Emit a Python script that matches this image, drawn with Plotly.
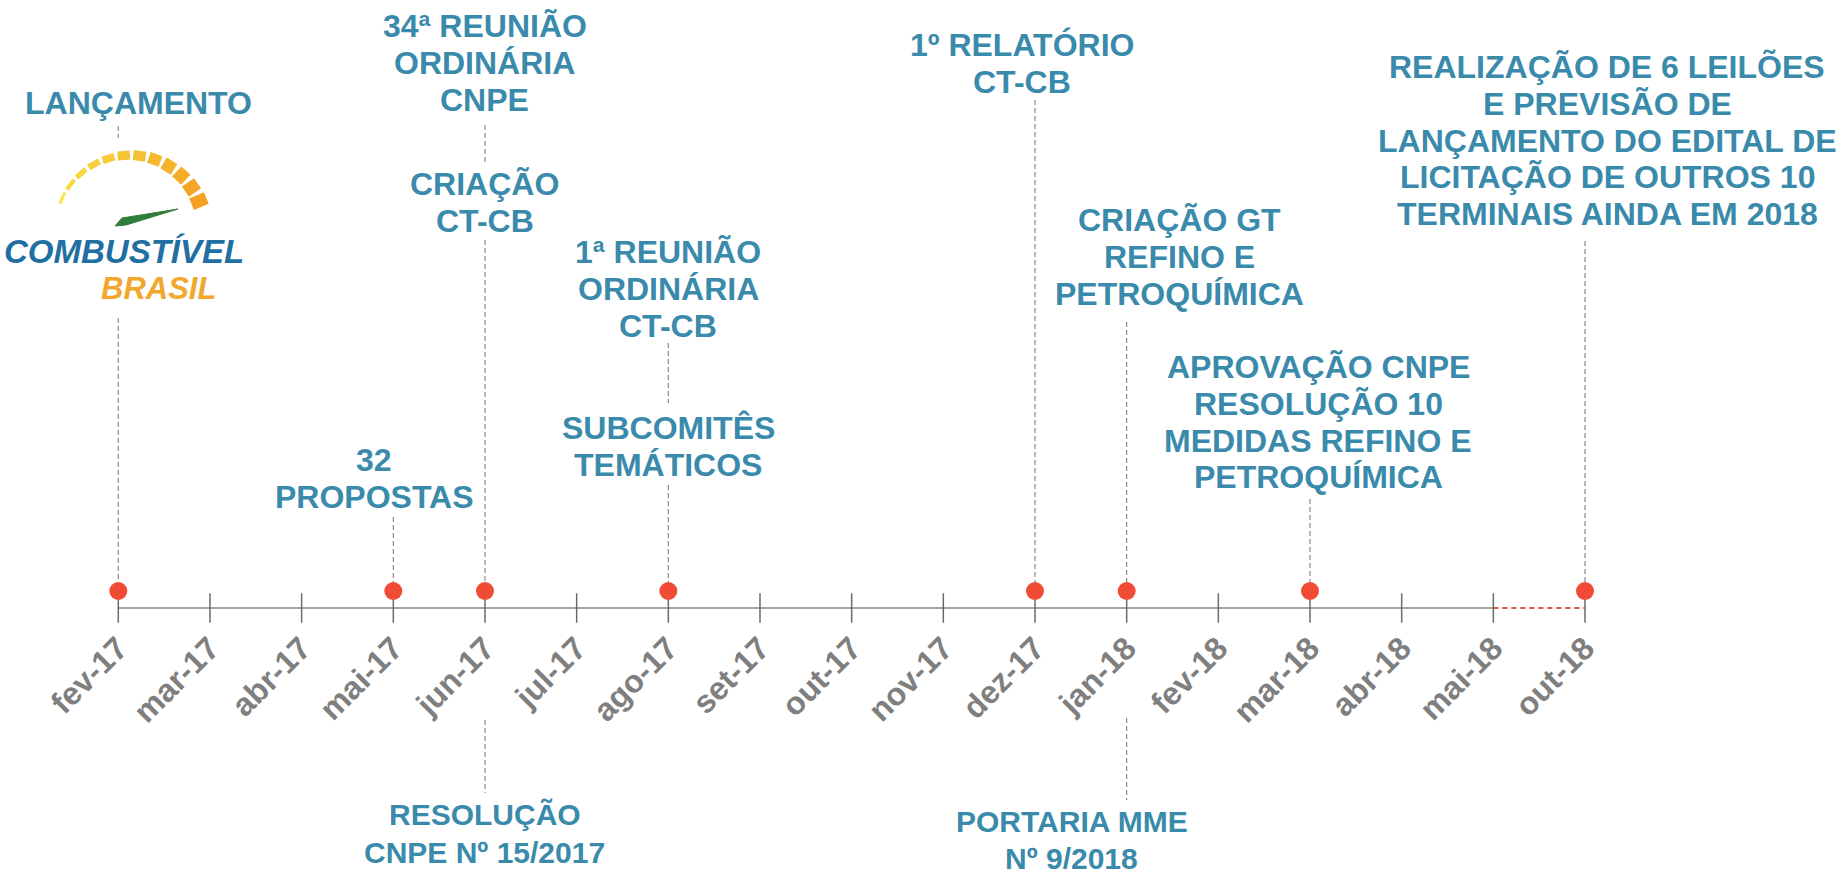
import numpy as np
import plotly.graph_objects as go

# ---------------- data ----------------
months = ["fev-17", "mar-17", "abr-17", "mai-17", "jun-17", "jul-17", "ago-17", "set-17",
          "out-17", "nov-17", "dez-17", "jan-18", "fev-18", "mar-18", "abr-18", "mai-18", "out-18"]
event_months = ["fev-17", "mai-17", "jun-17", "ago-17", "dez-17", "jan-18", "mar-18", "out-18"]

# texts attached to events (month, text)
event_texts = [
    ("fev-17", "LANÇAMENTO"),
    ("jun-17", "34ª REUNIÃO<br>ORDINÁRIA<br>CNPE"),
    ("jun-17", "CRIAÇÃO<br>CT-CB"),
    ("mai-17", "32<br>PROPOSTAS"),
    ("ago-17", "1ª REUNIÃO<br>ORDINÁRIA<br>CT-CB"),
    ("ago-17", "SUBCOMITÊS<br>TEMÁTICOS"),
    ("dez-17", "1º RELATÓRIO<br>CT-CB"),
    ("jan-18", "CRIAÇÃO GT<br>REFINO E<br>PETROQUÍMICA"),
    ("mar-18", "APROVAÇÃO CNPE<br>RESOLUÇÃO 10<br>MEDIDAS REFINO E<br>PETROQUÍMICA"),
    ("out-18", "REALIZAÇÃO DE 6 LEILÕES<br>E PREVISÃO DE<br>LANÇAMENTO DO EDITAL DE<br>LICITAÇÃO DE OUTROS 10<br>TERMINAIS AINDA EM 2018"),
    ("jun-17", "RESOLUÇÃO<br>CNPE Nº 15/2017"),
    ("jan-18", "PORTARIA MME<br>Nº 9/2018"),
]

# ---------------- layout helpers (pixel placement) ----------------
W, H = 1841, 874
X0_PX, STEP_PX = 118.3, 91.67          # pixel of first tick, pixel per month slot
AXIS_PY, DOT_PY = 608, 591
x_min = -X0_PX / STEP_PX
x_max = x_min + W / STEP_PX


def xd(px):
    return (px - X0_PX) / STEP_PX


def yd(py):
    return H - py


idx = {m: i for i, m in enumerate(months)}

# first-line centre (pixel y), horizontal shift, font size, line gap — same order as event_texts
text_pos = [(103, 20, 32, 36.8), (26, 0, 32, 36.8), (184, 0, 32, 36.8), (460, -19, 32, 36.8),
            (252, 0, 32, 36.8), (428, 0, 32, 36.8), (45, -13, 32, 36.8), (220, 53, 32, 36.8),
            (367, 8, 32, 36.8), (67, 22, 32, 36.8), (814, 0, 30, 38), (821, -55, 30, 37)]

# dashed connector segments (month, top py, bottom py)
connectors = [("fev-17", 126, DOT_PY), ("mai-17", 517, DOT_PY), ("jun-17", 125, 162),
              ("jun-17", 240, DOT_PY), ("jun-17", 720, 793), ("ago-17", 343, 403),
              ("ago-17", 485, DOT_PY), ("dez-17", 100, DOT_PY), ("jan-18", 322, DOT_PY),
              ("jan-18", 718, 800), ("mar-18", 499, DOT_PY), ("out-18", 241, DOT_PY)]

TEXT_COLOR = "#3a8aab"
DOT_COLOR = "#f04b35"
GREY_LINE = "#a3a3a3"
FONT = "Arial, Liberation Sans, sans-serif"

fig = go.Figure()

# connectors
cx, cy = [], []
for m, t, b in connectors:
    cx += [idx[m], idx[m], None]
    cy += [yd(t), yd(b), None]
fig.add_trace(go.Scatter(x=cx, y=cy, mode="lines", hoverinfo="skip",
                         line=dict(color="#8a8a8a", width=1.2, dash="5px,3px")))

# ---- logo (white backdrop, gauge arc, needle) ----
bx = [xd(4), xd(250), xd(250), xd(4), xd(4)]
by = [yd(138), yd(138), yd(316), yd(316), yd(138)]
fig.add_trace(go.Scatter(x=bx, y=by, fill="toself", fillcolor="white", mode="lines",
                         line=dict(width=0), hoverinfo="skip"))
cxp, cyp, r = 130, 230, 75
n_seg = 12
a_start, a_end = np.deg2rad(160), np.deg2rad(16)
edges = np.linspace(a_start, a_end, n_seg + 1)
c1, c2 = np.array([248, 228, 70]), np.array([245, 160, 35])
for k in range(n_seg):
    a0 = edges[k] - 0.01
    a1 = edges[k + 1] + 0.035
    aa = np.linspace(a0, a1, 6)
    f = k / (n_seg - 1)
    col = (c1 * (1 - f) + c2 * f).astype(int)
    wdt = 3 + 13 * f
    fig.add_trace(go.Scatter(
        x=[xd(cxp + r * np.cos(a)) for a in aa],
        y=[yd(cyp - r * np.sin(a)) for a in aa],
        mode="lines", hoverinfo="skip",
        line=dict(color=f"rgb({col[0]},{col[1]},{col[2]})", width=wdt)))
needle_px = [(115, 226), (122, 218), (178, 209), (126, 225), (115, 226)]
fig.add_trace(go.Scatter(x=[xd(p[0]) for p in needle_px], y=[yd(p[1]) for p in needle_px],
                         fill="toself", fillcolor="#2f7d3a", mode="lines",
                         line=dict(color="#2f7d3a", width=1), hoverinfo="skip"))

# ---- timeline axis ----
solid_end = idx["mai-18"]
fig.add_trace(go.Scatter(x=[0, solid_end], y=[yd(AXIS_PY)] * 2, mode="lines",
                         hoverinfo="skip", line=dict(color=GREY_LINE, width=2)))
fig.add_trace(go.Scatter(x=[solid_end, idx["out-18"]], y=[yd(AXIS_PY)] * 2, mode="lines",
                         hoverinfo="skip", line=dict(color="#e0553f", width=2, dash="5px,4px")))
fig.add_trace(go.Scatter(x=list(range(len(months))), y=[yd(AXIS_PY)] * len(months),
                         mode="markers", hoverinfo="skip", cliponaxis=False,
                         marker=dict(symbol="line-ns", size=21,
                                     line=dict(color="#6a6a6a", width=1.5))))
fig.add_trace(go.Scatter(x=[idx[m] for m in event_months], y=[yd(DOT_PY)] * len(event_months),
                         mode="markers", hoverinfo="skip", cliponaxis=False,
                         marker=dict(size=18, color=DOT_COLOR, line=dict(width=0))))

# ---- annotations (one per text line, for tight line spacing) ----
annos = []
for (m, txt), (py, xs, fs, gap) in zip(event_texts, text_pos):
    for i, line in enumerate(txt.split("<br>")):
        annos.append(dict(x=idx[m], y=yd(py + i * gap), xref="x", yref="y", text=line,
                          showarrow=False, xanchor="center", yanchor="middle", align="center",
                          xshift=xs,
                          font=dict(family=FONT, size=fs, color=TEXT_COLOR, weight="bold")))
annos.append(dict(x=xd(124), y=yd(251), xref="x", yref="y", text="COMBUSTÍVEL",
                  showarrow=False, xanchor="center", yanchor="middle",
                  font=dict(family=FONT, size=33, color="#1f6fa3", weight="bold",
                            style="italic")))
annos.append(dict(x=xd(158), y=yd(288), xref="x", yref="y", text="BRASIL",
                  showarrow=False, xanchor="center", yanchor="middle",
                  font=dict(family=FONT, size=31, color="#f2a72e", weight="bold",
                            style="italic")))

fig.update_layout(
    width=W, height=H, margin=dict(l=0, r=0, t=0, b=0),
    paper_bgcolor="white", plot_bgcolor="white", showlegend=False,
    annotations=annos,
    xaxis=dict(range=[x_min, x_max], domain=[0, 1], anchor="free",
               position=yd(AXIS_PY) / H, tickmode="array",
               tickvals=list(range(len(months))), ticktext=months, tickangle=-45,
               showline=False, showgrid=False, zeroline=False, ticks="",
               ticklabelstandoff=14, fixedrange=True,
               tickfont=dict(family=FONT, size=32, color="#7f7f7f", weight="bold")),
    yaxis=dict(range=[0, H], domain=[0, 1], visible=False, showgrid=False, zeroline=False,
               fixedrange=True),
)

fig.write_html("out.html", config={"displayModeBar": False},
               post_script="document.body.style.margin='0px';")
